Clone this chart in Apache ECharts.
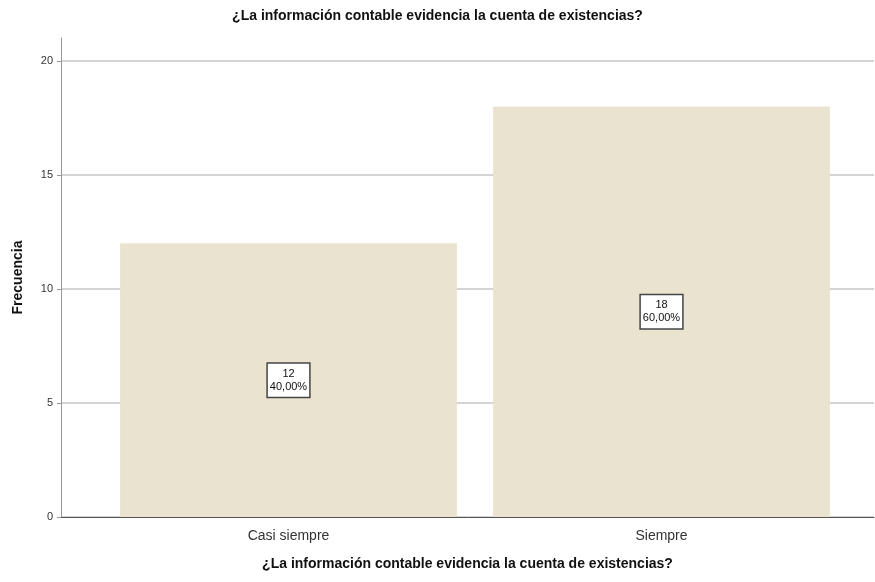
<!DOCTYPE html>
<html>
<head>
<meta charset="utf-8">
<script src="https://cdn.jsdelivr.net/npm/echarts@6/dist/echarts.min.js"></script>
<style>
  html, body { margin: 0; padding: 0; background: #fff; }
  #main { width: 875px; height: 582px; }
</style>
</head>
<body>
<div id="main"></div>
<script>
// datos
const categorias = ['Casi siempre', 'Siempre'];
const frecuencias = [12, 18];
const porcentajes = ['40,00%', '60,00%'];
const titulo = '¿La información contable evidencia la cuenta de existencias?';

const chart = echarts.init(document.getElementById('main'));

const option = {
  backgroundColor: '#fff',
  textStyle: { fontFamily: 'Liberation Sans, Arial, sans-serif' },
  title: {
    text: titulo,
    left: 'center',
    top: 4,
    textStyle: { fontSize: 14, fontWeight: 'bold', color: '#111' }
  },
  grid: [
    // marco con ejes y lineas de cuadricula
    { left: 61, right: 1, top: 38, bottom: 65 },
    // barras
    { left: 102, right: 27, top: 38, bottom: 65 }
  ],
  xAxis: [
    {
      gridIndex: 0,
      type: 'category',
      data: ['', ''],
      name: titulo,
      nameLocation: 'middle',
      nameGap: 40,
      nameTextStyle: { fontSize: 14, fontWeight: 'bold', color: '#111' },
      axisLine: { lineStyle: { color: '#555', width: 1 } },
      axisTick: { show: false },
      axisLabel: { show: false }
    },
    {
      gridIndex: 1,
      type: 'category',
      data: categorias,
      axisLine: { show: false },
      axisTick: { show: false },
      axisLabel: { fontSize: 14, color: '#333', margin: 12 }
    }
  ],
  yAxis: [
    {
      gridIndex: 0,
      type: 'value',
      min: 0,
      max: 21,
      interval: 5,
      name: 'Frecuencia',
      nameLocation: 'middle',
      nameGap: 36,
      nameTextStyle: { fontSize: 14, fontWeight: 'bold', color: '#111' },
      axisLine: { show: true, lineStyle: { color: '#999', width: 1 } },
      axisTick: { show: true, length: 4, lineStyle: { color: '#999' } },
      axisLabel: { fontSize: 11, color: '#333', margin: 8, showMaxLabel: false },
      splitLine: {
        show: true,
        lineStyle: { color: ['#d4d4d4', '#d4d4d4', '#d4d4d4', '#d4d4d4', '#d4d4d4', 'rgba(0,0,0,0)'], width: 2 }
      }
    },
    {
      gridIndex: 1,
      type: 'value',
      min: 0,
      max: 21,
      interval: 5,
      show: false,
      splitLine: { show: false }
    }
  ],
  series: [
    {
      type: 'bar',
      xAxisIndex: 1,
      yAxisIndex: 1,
      data: frecuencias,
      barCategoryGap: '9.7%',
      itemStyle: { color: '#EAE3D0' },
      label: {
        show: true,
        position: 'inside',
        formatter: p => p.value + '\n' + porcentajes[p.dataIndex],
        fontSize: 11,
        lineHeight: 13,
        color: '#111',
        backgroundColor: '#fff',
        borderColor: '#444',
        borderWidth: 1.5,
        padding: [4, 2, 3, 2],
        align: 'center'
      }
    }
  ]
};

chart.setOption(option);
</script>
</body>
</html>
